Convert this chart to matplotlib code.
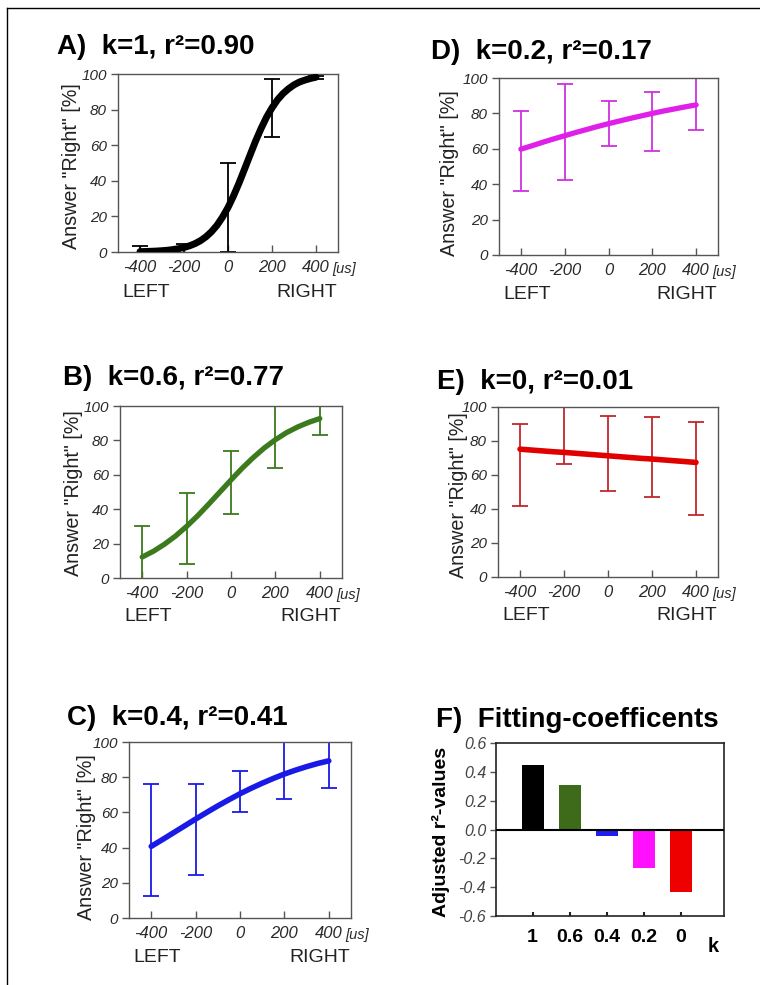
import matplotlib
matplotlib.use("Agg")
import matplotlib.pyplot as plt
from matplotlib.lines import Line2D

plt.rcParams['font.family'] = ['Liberation Sans', 'DejaVu Sans']

# ---------------- data ----------------
stim = [-400, -200, 0, 200, 400]                       # stimulus positions [us]
curve_x = [-400, -350, -300, -250, -200, -150, -100, -50, 0,
           50, 100, 150, 200, 250, 300, 350, 400]
curve_x_A = [-400, -375, -350, -325, -300, -275, -250, -225, -200, -175, -150,
             -125, -100, -75, -50, -25, 0, 25, 50, 75, 100, 125, 150, 175,
             200, 225, 250, 275, 300, 325, 350, 375, 400]

# fitted curves
fit_A = [0.2, 0.28, 0.39, 0.53, 0.73, 0.99, 1.37, 1.87, 2.56, 3.47, 4.7, 6.36,
         8.55, 11.4, 15.0, 19.6, 25.0, 31.5, 38.7, 46.5, 54.4, 62.2, 69.3, 75.7,
         81.0, 85.5, 89.0, 91.7, 93.9, 95.5, 96.6, 97.5, 98.2]
fit_B = [12.2, 15.5, 19.6, 24.4, 30.0, 36.2, 43.0, 50.0, 57.0, 63.8, 70.0, 75.6, 80.4, 84.5, 87.8, 90.5, 92.7]
fit_C = [40.7, 44.5, 48.4, 52.3, 56.2, 60.0, 63.7, 67.2, 70.6, 73.7, 76.6, 79.3, 81.8, 84.0, 86.0, 87.8, 89.3]
fit_D = [59.8, 61.7, 63.7, 65.6, 67.4, 69.2, 70.9, 72.6, 74.2, 75.7, 77.2, 78.6, 80.0, 81.3, 82.5, 83.7, 84.8]
fit_E = [75.2, 74.7, 74.2, 73.7, 73.3, 72.8, 72.3, 71.8, 71.3, 70.8, 70.3, 69.8, 69.4, 68.9, 68.4, 67.9, 67.4]

# means and error bars (data points)
mean_A = [0.5, 2.0, 25.0, 80.9, 98.0]
err_A = [2.7, 2.7, 25.0, 16.5, 1.0]
mean_B = [12.0, 28.7, 55.8, 82.0, 92.5]
err_B = [18.0, 20.6, 18.3, 18.0, 9.3]
mean_C = [44.3, 50.4, 72.0, 84.0, 89.0]
err_C = [32.0, 26.0, 11.7, 16.2, 15.3]
mean_D = [58.7, 69.5, 74.3, 75.4, 85.5]
err_D = [22.6, 27.0, 12.9, 16.9, 14.6]
mean_E = [65.9, 84.0, 72.7, 70.7, 64.0]
err_E = [24.0, 17.6, 22.0, 23.6, 27.4]

# panel F
k_labels = ['1', '0.6', '0.4', '0.2', '0']
adj_r2 = [0.444, 0.309, -0.046, -0.27, -0.435]
bar_colors = ['#000000', '#3d6b1a', '#1e1ef0', '#ff10ff', '#ee0000']

titles = ['A)  k=1, r²=0.90', 'B)  k=0.6, r²=0.77', 'C)  k=0.4, r²=0.41',
          'D)  k=0.2, r²=0.17', 'E)  k=0, r²=0.01']

W, H = 760, 985
fig = plt.figure(figsize=(W / 100, H / 100), dpi=100)

def fr(l, t, r, b):
    return [l / W, 1 - b / H, (r - l) / W, (b - t) / H]

# figure frame (left + top)
fig.add_artist(Line2D([7 / W, 7 / W], [0, 1 - 8 / H], color='black', lw=1.0, transform=fig.transFigure))
fig.add_artist(Line2D([7 / W, 1], [1 - 8 / H, 1 - 8 / H], color='black', lw=1.0, transform=fig.transFigure))

panels = [
    (fr(118, 74, 338, 252), curve_x_A, fit_A, mean_A, err_A, '#000000', '#000000', 5.0, titles[0], (57, 47), (-0.169, 0.48)),
    (fr(120, 406, 342, 578), curve_x, fit_B, mean_B, err_B, '#3c7a1e', '#3c7a1e', 3.8, titles[1], (63, 378), (-0.165, 0.494)),
    (fr(129, 742, 351, 918), curve_x, fit_C, mean_C, err_C, '#1a1ae6', '#1a1ae6', 4.0, titles[2], (67, 718), (-0.148, 0.46)),
    (fr(499, 78, 718, 255), curve_x, fit_D, mean_D, err_D, '#e020e8', '#d030e0', 3.8, titles[3], (431, 52), (-0.183, 0.463)),
    (fr(498, 407, 718, 577), curve_x, fit_E, mean_E, err_E, '#e00000', '#c0282d', 4.0, titles[4], (437, 382), (-0.135, 0.48)),
]

tick_col = '#2a2a2a'
spine_col = '#555555'

for rect, cx, fit, mean, err, lc, ec, lw, title, tpos, ylpos in panels:
    ax = fig.add_axes(rect)
    ax.errorbar(stim, mean, yerr=err, fmt='none', ecolor=ec, elinewidth=1.3,
                capsize=6, capthick=1.3, zorder=2)
    ax.plot(cx, fit, color=lc, lw=lw, solid_capstyle='round', zorder=3)
    ax.set_xlim(-500, 500)
    ax.set_ylim(0, 100)
    ax.set_xticks(stim)
    ax.set_xticklabels([str(s) for s in stim])
    ax.set_yticks([0, 20, 40, 60, 80, 100])
    ax.tick_params(axis='x', direction='in', length=5, width=1, color=spine_col,
                   labelsize=12, labelcolor=tick_col, pad=6)
    ax.tick_params(axis='y', direction='out', length=5, width=1, color=spine_col,
                   labelsize=11, labelcolor=tick_col, pad=3)
    for lab in ax.get_xticklabels() + ax.get_yticklabels():
        lab.set_style('italic')
    for s in ax.spines.values():
        s.set_color(spine_col)
        s.set_linewidth(1.0)
    ax.set_ylabel('Answer "Right" [%]', fontsize=14.2, color='#222222')
    ax.yaxis.set_label_coords(*ylpos)
    ax.annotate('[us]', xy=(400, 0), xycoords=('data', 'axes fraction'),
                xytext=(12, -12), textcoords='offset points', ha='left', va='center',
                fontsize=10.5, style='italic', color=tick_col)
    ax.text(0.02, -0.225, 'LEFT', transform=ax.transAxes, ha='left', va='center',
            fontsize=14, color='#222222')
    ax.text(0.995, -0.225, 'RIGHT', transform=ax.transAxes, ha='right', va='center',
            fontsize=14, color='#222222')
    fig.text(tpos[0] / W, 1 - tpos[1] / H, title, ha='left', va='center',
             fontsize=20, fontweight='bold')

# panel F
axf = fig.add_axes(fr(496, 743, 724, 916))
pos = list(range(len(adj_r2)))
axf.bar(pos, adj_r2, width=0.6, color=bar_colors, zorder=2)
axf.axhline(0, color='black', lw=1.5, zorder=3)
axf.set_xlim(-0.99, 5.17)
axf.set_ylim(-0.6, 0.6)
axf.set_yticks([0.6, 0.4, 0.2, 0.0, -0.2, -0.4, -0.6])
axf.set_yticklabels(['0.6', '0.4', '0.2', '0.0', '-0.2', '-0.4', '-0.6'])
axf.set_xticks(pos)
axf.set_xticklabels(k_labels)
axf.tick_params(axis='x', direction='in', length=3, width=1.5, color='#222222',
                labelsize=14, pad=9)
axf.tick_params(axis='y', direction='out', length=4, width=1, color=spine_col,
                labelsize=11.5, labelcolor='#444444', pad=3)
for lab in axf.get_xticklabels():
    lab.set_fontweight('bold')
for lab in axf.get_yticklabels():
    lab.set_style('italic')
for s in axf.spines.values():
    s.set_color('#222222')
    s.set_linewidth(1.2)
axf.set_ylabel('Adjusted r²-values', fontsize=14, fontweight='bold')
axf.yaxis.set_label_coords(-0.201, 0.486)
fig.text(713 / W, 1 - 947 / H, 'k', ha='center', va='center', fontsize=14.5, fontweight='bold')
fig.text(436 / W, 1 - 720 / H, 'F)  Fitting-coefficents', ha='left', va='center',
         fontsize=20, fontweight='bold')

fig.savefig('out.png', dpi=100)
